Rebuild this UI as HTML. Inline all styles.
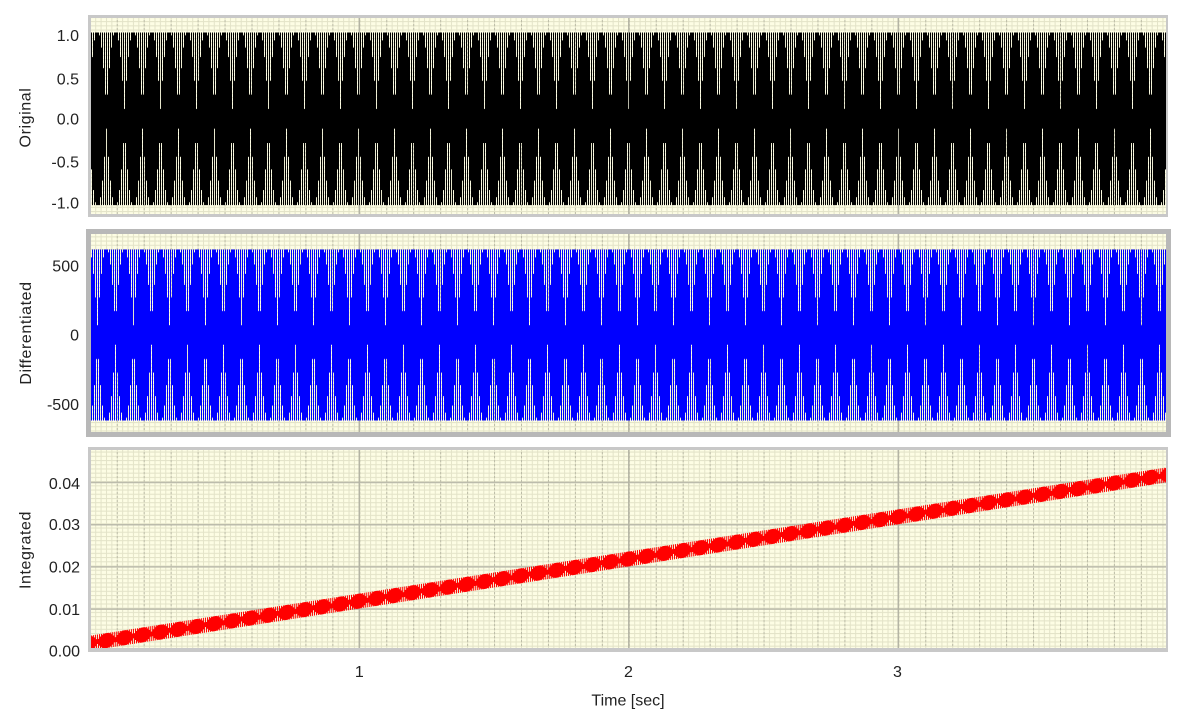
<!DOCTYPE html>
<html>
<head>
<meta charset="utf-8">
<style>
html,body{margin:0;padding:0;background:#fff;width:1184px;height:725px;overflow:hidden}
svg{display:block}
text{font-family:"Liberation Sans",Arial,sans-serif;font-size:16px;fill:#222}
.t{letter-spacing:0.6px}
</style>
</head>
<body>
<svg width="1184" height="725" viewBox="0 0 1184 725" xmlns="http://www.w3.org/2000/svg">
<defs>
  <pattern id="fg" patternUnits="userSpaceOnUse" x="89.8" y="0" width="5.39" height="4.22">
    <rect x="0" y="0" width="5.39" height="4.22" fill="#fdfde4"/>
    <path d="M0,0.5H5.39M0.5,0V4.22" stroke="#e3e3c8" stroke-width="1" fill="none"/>
  </pattern>
  <pattern id="mv" patternUnits="userSpaceOnUse" x="89.8" y="0" width="26.95" height="4">
    <path d="M0.5,0V2.2" stroke="#bdbda8" stroke-width="1" fill="none"/>
  </pattern>
  <pattern id="pb" patternUnits="userSpaceOnUse" x="0" y="-200" width="36" height="400" patternTransform="matrix(1 0 0 0.838 0 118.8)">
    <g transform="translate(0,200)">
    <path fill="#000" d="M0,-103H1V45.3H0Z M1,-60.4H2V103H1Z M2,-103H3V73.7H2Z M3,-84.9H4V103H3Z M4,-103H5V93.6H4Z M5,-99.6H6V103H5Z M6,-103H9V103H6Z M9,-103H10V99.6H9Z M10,-93.6H11V103H10Z M11,-103H12V84.9H11Z M12,-73.7H13V103H12Z M13,-103H14V60.4H13Z M14,-45.3H15V103H14Z M15,-103H16V28.9H15Z M16,-11.7H17V103H16Z M17,-103H18V28.9H17Z M18,-45.3H19V103H18Z M19,-103H20V60.4H19Z M20,-73.7H21V103H20Z M21,-103H22V84.9H21Z M22,-93.6H23V103H22Z M23,-103H24V99.6H23Z M24,-103H27V103H24Z M27,-99.6H28V103H27Z M28,-103H29V93.6H28Z M29,-84.9H30V103H29Z M30,-103H31V73.7H30Z M31,-60.4H32V103H31Z M32,-103H33V45.3H32Z M33,-28.9H34V103H33Z M34,-103H35V11.7H34Z M35,-28.9H36V103H35Z"/>
    </g>
  </pattern>
  <pattern id="pbl" patternUnits="userSpaceOnUse" x="0" y="-200" width="36" height="400" patternTransform="matrix(1 0 0 0.83 9 335)">
    <g transform="translate(0,200)">
    <path fill="#0000ff" d="M0,-103H1V45.3H0Z M1,-60.4H2V103H1Z M2,-103H3V73.7H2Z M3,-84.9H4V103H3Z M4,-103H5V93.6H4Z M5,-99.6H6V103H5Z M6,-103H9V103H6Z M9,-103H10V99.6H9Z M10,-93.6H11V103H10Z M11,-103H12V84.9H11Z M12,-73.7H13V103H12Z M13,-103H14V60.4H13Z M14,-45.3H15V103H14Z M15,-103H16V28.9H15Z M16,-11.7H17V103H16Z M17,-103H18V28.9H17Z M18,-45.3H19V103H18Z M19,-103H20V60.4H19Z M20,-73.7H21V103H20Z M21,-103H22V84.9H21Z M22,-93.6H23V103H22Z M23,-103H24V99.6H23Z M24,-103H27V103H24Z M27,-99.6H28V103H27Z M28,-103H29V93.6H28Z M29,-84.9H30V103H29Z M30,-103H31V73.7H30Z M31,-60.4H32V103H31Z M32,-103H33V45.3H32Z M33,-28.9H34V103H33Z M34,-103H35V11.7H34Z M35,-28.9H36V103H35Z"/>
    </g>
  </pattern>
  <pattern id="pr" patternUnits="userSpaceOnUse" x="0" y="-400" width="36" height="800" patternTransform="matrix(1 -0.15628 0 1 -9 658.63)">
    <g transform="translate(0,400)">
    <path fill="#ff0000" d="M0,-7.5H1V4.04H0Z M1,-4.94H2V7.5H1Z M2,-7.5H3V5.74H2Z M3,-6.41H4V7.5H3Z M4,-7.5H5V6.94H4Z M5,-7.3H6V7.5H5Z M6,-7.5H9V7.5H6Z M9,-7.5H10V7.3H9Z M10,-6.94H11V7.5H10Z M11,-7.5H12V6.41H11Z M12,-5.74H13V7.5H12Z M13,-7.5H14V4.94H13Z M14,-4.04H15V7.5H14Z M15,-7.5H16V3.05H15Z M16,-2.02H17V7.5H16Z M17,-7.5H18V3.05H17Z M18,-4.04H19V7.5H18Z M19,-7.5H20V4.94H19Z M20,-5.74H21V7.5H20Z M21,-7.5H22V6.41H21Z M22,-6.94H23V7.5H22Z M23,-7.5H24V7.3H23Z M24,-7.5H27V7.5H24Z M27,-7.3H28V7.5H27Z M28,-7.5H29V6.94H28Z M29,-6.41H30V7.5H29Z M30,-7.5H31V5.74H30Z M31,-4.94H32V7.5H31Z M32,-7.5H33V4.04H32Z M33,-3.05H34V7.5H33Z M34,-7.5H35V2.02H34Z M35,-3.05H36V7.5H35Z"/>
    </g>
  </pattern>
</defs>

<!-- Panel 1 : Original -->
<rect x="88" y="15" width="1080" height="202" fill="#c8c8c8"/>
<rect x="91" y="18" width="1075" height="196" fill="url(#fg)"/>
<rect x="91" y="18" width="1075" height="196" fill="url(#mv)"/>
<path d="M359.3,18V214M628.8,18V214M898.3,18V214" stroke="#b4b4a4" stroke-width="1.5"/>
<rect x="91" y="18" width="1075" height="196" fill="url(#pb)"/>

<!-- Panel 2 : Differentiated -->
<rect x="86" y="229" width="1085" height="208" fill="#b8b8b8"/>
<rect x="91" y="234" width="1075" height="198" fill="url(#fg)"/>
<rect x="91" y="234" width="1075" height="198" fill="url(#mv)"/>
<path d="M359.3,234V432M628.8,234V432M898.3,234V432" stroke="#b4b4a4" stroke-width="1.5"/>
<rect x="91" y="234" width="1075" height="198" fill="url(#pbl)"/>

<!-- Panel 3 : Integrated -->
<rect x="88" y="447" width="1080" height="205" fill="#c8c8c8"/>
<rect x="91" y="450" width="1075" height="198" fill="url(#fg)"/>
<rect x="91" y="450" width="1075" height="198" fill="url(#mv)"/>
<path d="M91,482.5H1166M91,524.7H1166M91,566.9H1166M91,609.1H1166" stroke="#bcbcac" stroke-width="1.5"/>
<path d="M359.3,450V648M628.8,450V648M898.3,450V648" stroke="#b4b4a4" stroke-width="1.5"/>
<rect x="91" y="450" width="1075" height="198" fill="url(#pr)"/>

<!-- Y tick labels panel 1 -->
<text x="79" y="41" text-anchor="end">1.0</text>
<text x="79" y="84.7" text-anchor="end">0.5</text>
<text x="79" y="124.4" text-anchor="end">0.0</text>
<text x="79" y="167.7" text-anchor="end">-0.5</text>
<text x="79" y="208.4" text-anchor="end">-1.0</text>

<!-- Y tick labels panel 2 -->
<text x="79" y="271.4" text-anchor="end">500</text>
<text x="79" y="340.7" text-anchor="end">0</text>
<text x="79" y="410" text-anchor="end">-500</text>

<!-- Y tick labels panel 3 -->
<text x="80" y="489" text-anchor="end">0.04</text>
<text x="80" y="530" text-anchor="end">0.03</text>
<text x="80" y="572.4" text-anchor="end">0.02</text>
<text x="80" y="615" text-anchor="end">0.01</text>
<text x="80" y="656.4" text-anchor="end">0.00</text>

<!-- Axis titles -->
<text class="t" transform="translate(30.5,117.5) rotate(-90)" text-anchor="middle">Original</text>
<text class="t" transform="translate(31,333) rotate(-90)" text-anchor="middle">Differentiated</text>
<text class="t" transform="translate(30.5,550) rotate(-90)" text-anchor="middle">Integrated</text>

<!-- X tick labels -->
<text x="359.3" y="677.2" text-anchor="middle">1</text>
<text x="628.5" y="677.2" text-anchor="middle">2</text>
<text x="897.5" y="677.2" text-anchor="middle">3</text>
<text x="628" y="705.5" text-anchor="middle">Time [sec]</text>
</svg>
</body>
</html>
